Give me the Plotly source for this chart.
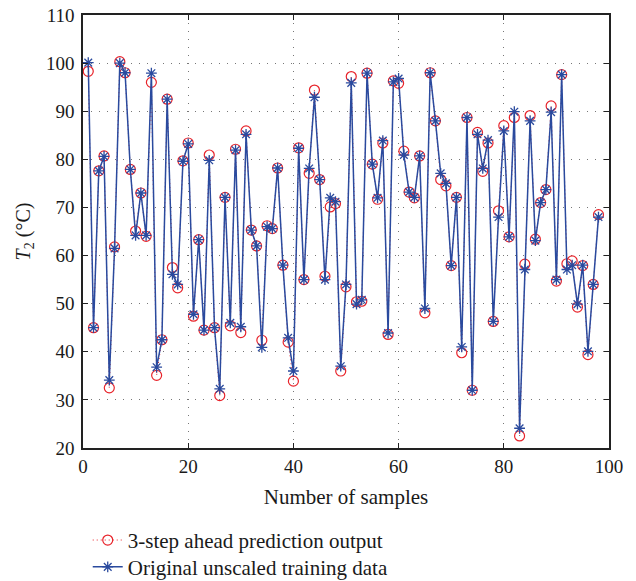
import plotly.graph_objects as go

samples = list(range(1, 99))

original = [100.1, 45.0, 77.6, 80.6, 34.1, 61.5, 100.0, 98.0, 77.9, 64.2,
            73.0, 64.2, 97.9, 36.8, 42.5, 92.5, 56.1, 54.0, 79.6, 83.2,
            47.8, 63.3, 44.5, 79.8, 45.0, 32.3, 72.1, 46.0, 81.9, 45.2,
            85.2, 65.3, 62.0, 40.9, 66.0, 65.6, 78.2, 58.0, 42.9, 36.0,
            82.3, 55.0, 78.1, 92.9, 75.8, 55.0, 72.0, 71.2, 37.0, 54.0,
            95.9, 49.9, 50.8, 97.9, 79.0, 72.0, 83.9, 43.9, 96.1, 96.8,
            80.9, 73.2, 72.1, 80.7, 49.0, 98.0, 88.0, 77.1, 75.0, 57.9,
            72.1, 41.0, 88.7, 32.0, 85.2, 78.1, 84.0, 46.3, 68.0, 85.9,
            63.9, 89.9, 24.1, 57.1, 88.0, 63.1, 71.0, 73.7, 89.8, 55.0,
            97.6, 57.1, 58.0, 49.9, 58.0, 40.1, 54.0, 68.0]

prediction = [98.3, 45.0, 77.6, 80.7, 32.5, 61.8, 100.3, 98.0, 77.9, 65.1,
              73.0, 64.0, 96.0, 35.1, 42.5, 92.5, 57.5, 53.3, 79.7, 83.4,
              47.4, 63.3, 44.5, 80.9, 45.0, 30.9, 72.1, 45.4, 82.1, 44.0,
              85.9, 65.3, 62.0, 42.4, 66.2, 65.6, 78.2, 58.0, 42.0, 33.9,
              82.4, 55.0, 77.1, 94.4, 75.8, 55.7, 70.1, 70.8, 36.0, 53.5,
              97.2, 50.4, 50.5, 97.9, 79.0, 71.7, 83.4, 43.6, 96.3, 95.8,
              81.7, 73.2, 72.0, 80.7, 48.1, 98.0, 88.0, 75.8, 74.5, 57.9,
              72.1, 39.8, 88.7, 32.0, 85.6, 77.5, 83.4, 46.3, 69.3, 87.0,
              63.9, 88.7, 22.5, 58.2, 89.1, 63.4, 71.0, 73.7, 91.1, 54.7,
              97.6, 58.3, 58.9, 49.3, 57.9, 39.4, 54.0, 68.5]

x_ticks = [0, 20, 40, 60, 80, 100]
y_ticks = [20, 30, 40, 50, 60, 70, 80, 90, 100, 110]

FONT = "Liberation Serif"
BLUE = "#2a4a9e"
RED = "#e8232a"
TXT = "#1a1a1a"

fig = go.Figure()
fig.add_trace(go.Scatter(
    x=samples, y=prediction, mode="lines+markers",
    name="3-step ahead prediction output", legend="legend",
    line=dict(color=RED, width=1, dash="1px,3px"),
    marker=dict(symbol="circle-open", size=10, color=RED, line=dict(width=1.2, color=RED)),
))
fig.add_trace(go.Scatter(
    x=samples, y=original, mode="lines+markers",
    name="Original unscaled training data", legend="legend2",
    line=dict(color=BLUE, width=1.5),
    marker=dict(symbol="asterisk-open", size=9, color=BLUE, line=dict(width=1.3, color=BLUE)),
))

axis_common = dict(
    showline=True, linecolor="#222", linewidth=1.5, mirror="ticks",
    ticks="inside", ticklen=5, tickcolor="#222", tickwidth=1,
    showgrid=True, gridcolor="#777", griddash="1px,7px", gridwidth=1,
    zeroline=False, automargin=False,
    tickfont=dict(family=FONT, size=19, color=TXT),
)

fig.update_xaxes(range=[0, 100], tickvals=x_ticks, ticklabelstandoff=0,
                 title=dict(text="Number of samples", font=dict(family=FONT, size=21, color=TXT), standoff=14),
                 **axis_common)
fig.update_yaxes(range=[20, 110], tickvals=y_ticks, ticklabelstandoff=3,
                 title=dict(text="<i>T</i><sub>2</sub> (°C)", font=dict(family=FONT, size=20, color=TXT), standoff=10),
                 **axis_common)

legend_common = dict(xanchor="left", yanchor="top",
                     font=dict(family=FONT, size=21, color=TXT),
                     bgcolor="rgba(0,0,0,0)")

fig.update_layout(
    width=636, height=581,
    margin=dict(l=83, r=27, t=15, b=133, autoexpand=False),
    plot_bgcolor="white", paper_bgcolor="white",
    font=dict(family=FONT, size=19, color=TXT),
    legend=dict(x=0.009, y=-0.166, **legend_common),
    legend2=dict(x=0.009, y=-0.228, **legend_common),
    showlegend=True,
)

fig.write_html("out.html", config={"displayModeBar": False},
               post_script="document.body.style.margin='0';document.body.style.padding='0';")
